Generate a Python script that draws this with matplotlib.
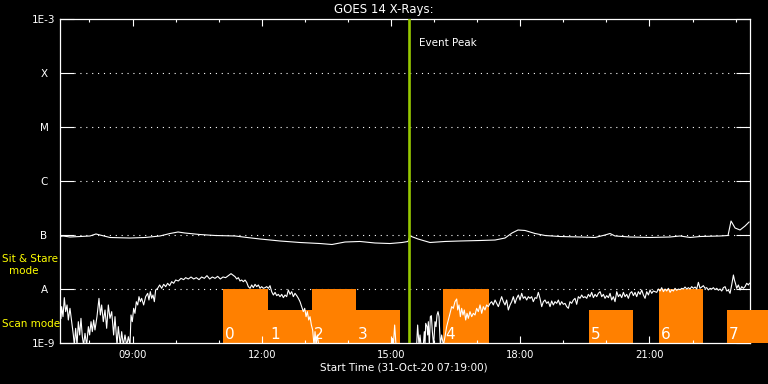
import matplotlib
matplotlib.use('Agg')
import matplotlib.pyplot as plt
from matplotlib.ticker import FixedLocator, NullLocator
import numpy as np

# start of the plot window (31-Oct-20 07:19:00), times below are minutes after it
start_h = 7 + 19 / 60
span_min = 961
peak_min = 486          # event peak, ~15:25

# GOES 14 long channel (1-8 A), log10 flux in W/m^2
xrs_long = [
    (0, -7.030), (4.2, -7.020), (13.9, -7.039), (27.9, -7.030), (41.8, -7.020),
    (50.1, -6.983), (55.7, -7.002), (69.6, -7.048), (97.5, -7.058), (118.4, -7.048),
    (139.3, -7.020), (153.2, -6.974), (164.4, -6.946), (174.1, -6.965), (195.0, -6.993),
    (215.9, -7.011), (243.7, -7.020), (260.5, -7.048), (278.6, -7.076), (306.4, -7.113),
    (334.3, -7.141), (362.1, -7.160), (378.8, -7.178), (396.9, -7.132), (417.8, -7.122),
    (438.7, -7.150), (459.6, -7.160), (476.3, -7.141), (484.7, -7.122), (487.5, -7.020),
    (498.6, -7.076), (515.3, -7.141), (536.2, -7.122), (557.1, -7.113), (585.0, -7.104),
    (605.9, -7.095), (619.8, -7.058), (629.5, -6.965), (637.9, -6.909), (647.7, -6.918),
    (661.6, -6.974), (675.5, -7.011), (696.4, -7.030), (724.3, -7.039), (745.1, -7.048),
    (759.1, -7.002), (766.0, -6.974), (773.0, -7.020), (793.9, -7.039), (821.8, -7.048),
    (849.6, -7.039), (863.5, -7.020), (877.5, -7.048), (891.4, -7.030), (919.3, -7.020),
    (930.4, -7.011), (934.6, -6.742), (940.2, -6.872), (947.1, -6.909), (954.1, -6.835),
    (959.7, -6.761),
]

# GOES 14 short channel (0.5-4 A), log10 flux in W/m^2 (-9.05 = off scale)
xrs_short = [
    (1.4, -8.548), (2.3, -8.331), (4.2, -8.517), (6.0, -8.164), (7.9, -8.424), (9.8, -8.300),
    (11.6, -8.579), (13.9, -8.362), (16.2, -8.610), (18.6, -8.857), (20.0, -9.05), (21.8, -8.733),
    (23.7, -9.05), (25.5, -8.610), (27.4, -8.857), (29.2, -8.548), (31.1, -8.888), (32.9, -9.05),
    (34.8, -8.826), (37.1, -9.05), (39.5, -8.702), (41.3, -8.857), (43.2, -8.610), (45.0, -8.795),
    (46.9, -8.579), (48.7, -8.764), (51.5, -8.517), (54.3, -8.177), (56.2, -8.486), (58.0, -8.300),
    (60.3, -8.610), (62.7, -8.393), (65.0, -8.733), (67.3, -8.300), (69.6, -8.548), (72.0, -8.424),
    (74.7, -8.857), (76.6, -8.517), (79.4, -9.05), (81.2, -8.702), (84.0, -9.05), (85.9, -8.795),
    (88.2, -9.05), (90.5, -8.857), (92.9, -9.05), (95.2, -8.888), (97.5, -9.05), (98.9, -8.486),
    (100.7, -8.610), (102.6, -8.362), (104.4, -8.455), (106.3, -8.239), (108.2, -8.300), (110.0, -8.146),
    (111.9, -8.239), (113.7, -8.177), (116.5, -8.300), (119.3, -8.146), (122.1, -8.084), (123.9, -8.208),
    (125.8, -8.053), (127.7, -8.177), (129.5, -8.115), (131.4, -8.239), (133.2, -8.022), (136.0, -7.991),
    (138.8, -7.929), (141.6, -7.991), (144.4, -7.917), (147.2, -7.960), (149.9, -7.898), (152.7, -7.942),
    (155.5, -7.868), (158.3, -7.898), (161.1, -7.837), (164.8, -7.855), (168.5, -7.806), (172.2, -7.830),
    (175.0, -7.793), (178.7, -7.818), (182.5, -7.781), (186.2, -7.818), (189.9, -7.793), (193.6, -7.830),
    (197.3, -7.781), (201.0, -7.806), (204.7, -7.756), (208.5, -7.818), (212.2, -7.781), (215.9, -7.806),
    (219.6, -7.769), (223.3, -7.818), (227.0, -7.781), (230.7, -7.793), (234.4, -7.756), (238.2, -7.719),
    (241.9, -7.756), (243.8, -7.775), (246.1, -7.818), (248.4, -7.793), (250.7, -7.855), (253.0, -7.837),
    (255.4, -7.868), (257.7, -7.837), (260.0, -7.880), (262.3, -7.960), (264.7, -7.991), (267.0, -7.929),
    (269.3, -7.979), (271.6, -7.917), (274.0, -7.960), (276.3, -7.929), (278.6, -7.991), (280.9, -7.960),
    (283.2, -7.991), (285.6, -7.979), (287.9, -7.960), (290.2, -7.991), (292.5, -7.942), (294.8, -8.053),
    (297.2, -8.115), (299.5, -8.066), (301.8, -8.127), (304.1, -8.103), (306.4, -8.146), (308.8, -8.103),
    (311.1, -8.164), (313.4, -8.115), (315.7, -8.146), (318.0, -8.022), (320.4, -8.103), (322.7, -8.053),
    (325.0, -8.146), (327.3, -8.084), (329.7, -8.127), (332.0, -8.177), (334.3, -8.239), (336.6, -8.331),
    (338.9, -8.424), (340.8, -8.362), (342.7, -8.517), (344.5, -8.424), (346.4, -8.579), (348.2, -8.517),
    (350.1, -8.672), (351.9, -8.764), (353.8, -9.05), (355.2, -8.795), (356.6, -9.05), (358.4, -8.857),
    (360.3, -9.05), (462.0, -9.05), (463.0, -8.919), (464.3, -9.05), (466.1, -8.672), (468.0, -9.05),
    (496.7, -9.05), (498.1, -8.672), (500.0, -9.05), (501.4, -8.857), (502.8, -9.05), (506.0, -9.05),
    (507.4, -8.795), (508.4, -9.05), (509.3, -8.641), (511.1, -8.702), (512.1, -8.857), (513.0, -8.610),
    (514.4, -9.05), (515.8, -8.517), (517.2, -8.498), (518.6, -8.795), (520.4, -9.05), (522.3, -8.610),
    (523.7, -8.702), (525.1, -8.486), (526.5, -8.424), (527.9, -8.517), (529.7, -9.05), (531.6, -8.857),
    (533.9, -9.05), (536.2, -8.888), (538.5, -8.702), (540.9, -8.579), (543.2, -8.455), (545.5, -8.331),
    (547.8, -8.362), (550.1, -8.239), (552.5, -8.189), (553.9, -8.393), (555.7, -8.300), (557.6, -8.517),
    (559.4, -8.362), (561.3, -8.486), (563.1, -8.393), (565.0, -8.579), (566.9, -8.455), (568.7, -8.548),
    (571.0, -8.424), (573.4, -8.517), (575.7, -8.455), (578.0, -8.486), (580.3, -8.362), (582.6, -8.424),
    (585.0, -8.300), (587.3, -8.455), (589.6, -8.331), (591.9, -8.393), (594.2, -8.300), (596.6, -8.331),
    (598.9, -8.270), (601.2, -8.239), (603.5, -8.300), (605.9, -8.208), (608.2, -8.270), (610.5, -8.331),
    (612.8, -8.239), (615.1, -8.146), (617.5, -8.239), (619.8, -8.300), (622.1, -8.208), (624.4, -8.393),
    (626.8, -8.300), (629.1, -8.239), (631.4, -8.146), (633.7, -8.270), (636.0, -8.177), (638.4, -8.115),
    (640.7, -8.208), (643.0, -8.084), (645.3, -8.177), (647.6, -8.146), (650.0, -8.208), (652.3, -8.146),
    (654.6, -8.177), (656.9, -8.146), (659.2, -8.239), (661.6, -8.164), (663.9, -8.177), (666.2, -8.066),
    (668.5, -8.177), (670.9, -8.331), (673.2, -8.239), (675.5, -8.208), (677.8, -8.270), (680.1, -8.239),
    (682.5, -8.331), (684.8, -8.226), (687.1, -8.300), (689.4, -8.239), (691.8, -8.270), (694.1, -8.208),
    (696.4, -8.300), (698.7, -8.239), (701.0, -8.288), (703.4, -8.270), (705.7, -8.331), (708.0, -8.362),
    (710.3, -8.239), (712.6, -8.270), (715.0, -8.208), (717.3, -8.177), (719.6, -8.288), (721.9, -8.146),
    (724.2, -8.177), (726.6, -8.115), (728.9, -8.164), (731.2, -8.146), (733.6, -8.177), (735.9, -8.103),
    (738.2, -8.146), (740.5, -8.066), (742.9, -8.164), (745.2, -8.103), (747.5, -8.146), (749.8, -8.084),
    (752.2, -8.053), (754.5, -8.146), (756.8, -8.103), (759.1, -8.177), (761.4, -8.127), (763.8, -8.164),
    (766.1, -8.084), (768.4, -8.208), (770.7, -8.146), (773.0, -8.239), (775.4, -8.053), (777.7, -8.146),
    (780.0, -8.103), (782.3, -8.164), (784.7, -8.066), (787.0, -8.146), (789.3, -8.103), (791.6, -8.177),
    (793.9, -8.084), (796.3, -8.053), (798.6, -8.127), (800.9, -8.066), (803.2, -8.146), (805.5, -8.053),
    (807.9, -8.103), (810.2, -8.022), (812.5, -8.115), (814.8, -8.177), (817.2, -8.053), (819.5, -8.115),
    (821.8, -8.022), (824.1, -8.084), (826.4, -8.041), (828.8, -8.053), (831.1, -8.066), (833.4, -8.004),
    (835.7, -8.041), (838.0, -7.979), (840.4, -8.053), (842.7, -8.004), (845.0, -8.041), (847.3, -7.991),
    (849.7, -8.066), (852.0, -8.016), (854.3, -8.041), (856.6, -7.991), (858.9, -8.028), (861.3, -8.004),
    (863.6, -8.016), (865.9, -7.991), (868.2, -8.004), (870.5, -7.967), (872.9, -8.004), (875.2, -7.979),
    (877.5, -8.004), (879.8, -7.960), (882.2, -7.991), (884.5, -7.967), (886.8, -8.004), (889.1, -7.880),
    (891.4, -7.991), (893.8, -7.967), (896.1, -7.942), (898.4, -7.991), (900.7, -7.979), (903.0, -8.022),
    (905.4, -7.991), (907.7, -8.004), (910.0, -7.979), (912.3, -8.016), (914.7, -7.991), (917.0, -8.028),
    (919.3, -8.004), (921.6, -8.041), (923.9, -7.979), (926.3, -7.960), (928.6, -8.041), (930.9, -8.022),
    (933.2, -8.084), (935.5, -7.929), (937.9, -7.744), (939.3, -7.837), (940.7, -7.898), (942.5, -7.991),
    (944.8, -7.929), (947.2, -8.022), (949.5, -7.960), (951.8, -7.991), (954.1, -7.960), (956.4, -7.898),
    (958.8, -7.929), (960.2, -7.898),
]

# IRIS observations (minutes after start), 1 = sit & stare, 0 = scan
obs_start = [227, 290, 351, 412, 533, 737, 834, 929]
obs_end = [290, 351, 412, 473, 597, 798, 896, 1010]
obs_mode = [1, 0, 1, 0, 1, 0, 1, 0]
mode_top = {1: 1e-8, 0: 4e-9}

ytick_vals = [1e-9, 1e-8, 1e-7, 1e-6, 1e-5, 1e-4, 1e-3]
ytick_labels = ['1E-9', 'A', 'B', 'C', 'M', 'X', '1E-3']
xtick_hours = [9, 12, 15, 18, 21]

WHITE = 'white'
ORANGE = '#ff8000'
GREEN = '#96c800'
YELLOW = '#ffff00'

def to_hours(m):
    return start_h + np.asarray(m, dtype=float) / 60.0

lt, llg = np.array(xrs_long).T
st, slg = np.array(xrs_short).T

fig = plt.figure(figsize=(7.68, 3.84), dpi=100, facecolor='black')
ax = fig.add_axes([60 / 768, 41.3 / 384, 690 / 768, 323.4 / 384])
ax.set_facecolor('black')
ax.set_yscale('log')
ax.set_ylim(1e-9, 1e-3)
ax.set_xlim(start_h, to_hours(span_min))

# dotted flare-class levels
for lev in ytick_vals[1:-1]:
    ax.axhline(lev, xmin=14 / 690, xmax=1, color=WHITE, lw=0.8,
               linestyle=(0, (1, 4.3)), zorder=0.5)

# observation blocks
for i in range(len(obs_start)):
    x0 = to_hours(obs_start[i])
    w = (obs_end[i] - obs_start[i]) / 60.0
    top = mode_top[obs_mode[i]]
    last = i == len(obs_start) - 1
    ax.bar(x0, top - 1e-9, width=w, bottom=1e-9, align='edge', color=ORANGE,
           linewidth=0, zorder=2.6 if last else 1, clip_on=not last)
    ax.annotate(str(i), xy=(x0, 0), xycoords=('data', 'axes fraction'),
                xytext=(1.5, 3), textcoords='offset points', color=WHITE,
                fontsize=11, va='baseline', ha='left', zorder=4)

ax.plot(to_hours(lt), 10 ** llg, color=WHITE, lw=0.8, zorder=3)
ax.plot(to_hours(st), 10 ** slg, color=WHITE, lw=0.8, zorder=3)

peak_h = to_hours(peak_min)
ax.axvline(peak_h, color=GREEN, lw=1.9, zorder=5)
ax.annotate('Event Peak', xy=(peak_h, 1), xycoords=('data', 'axes fraction'),
            xytext=(7.5, -17), textcoords='offset points', color=WHITE,
            fontsize=7.5, va='center', ha='left')

# axes styling
for sp in ax.spines.values():
    sp.set_color(WHITE)
    sp.set_linewidth(0.9)

ax.yaxis.set_major_locator(FixedLocator(ytick_vals))
ax.yaxis.set_minor_locator(NullLocator())
ax.set_yticklabels(ytick_labels)
ax.tick_params(axis='y', which='major', direction='in', length=10, width=0.8,
               left=True, right=True, colors=WHITE, labelsize=7.5, pad=11.5)
for lab in ax.get_yticklabels():
    lab.set_horizontalalignment('center')

ax.xaxis.set_major_locator(FixedLocator(xtick_hours))
ax.xaxis.set_minor_locator(FixedLocator(list(range(8, 24))))
ax.set_xticklabels(['%02d:00' % h for h in xtick_hours])
ax.tick_params(axis='x', which='major', direction='in', length=5, width=0.8,
               top=True, bottom=True, colors=WHITE, labelsize=7.2, pad=5)
ax.tick_params(axis='x', which='minor', direction='in', length=2.5, width=0.8,
               top=True, bottom=True, colors=WHITE)

fig.text(0.5, 1 - 9 / 384, 'GOES 14 X-Rays:', color=WHITE, fontsize=8.5,
         ha='center', va='center')
fig.text(404 / 768, 1 - 368 / 384, 'Start Time (31-Oct-20 07:19:00)', color=WHITE,
         fontsize=7.5, ha='center', va='center')
fig.text(2 / 768, 1 - 259 / 384, 'Sit & Stare', color=YELLOW, fontsize=7.5,
         ha='left', va='center')
fig.text(24 / 768, 1 - 271 / 384, 'mode', color=YELLOW, fontsize=7.5,
         ha='center', va='center')
fig.text(2 / 768, 1 - 324 / 384, 'Scan mode', color=YELLOW, fontsize=7.5,
         ha='left', va='center')

fig.savefig('out.png', dpi=100, facecolor='black')
